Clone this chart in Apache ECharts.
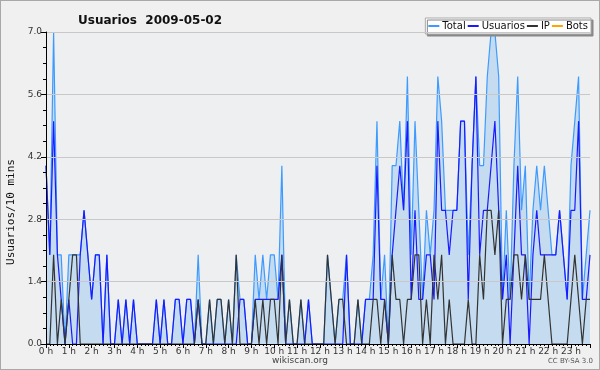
<!DOCTYPE html>
<html>
<head>
<meta charset="utf-8">
<script src="https://cdn.jsdelivr.net/npm/echarts@6/dist/echarts.min.js"></script>
<style>
  html, body { margin: 0; padding: 0; background: #f0f0f0; }
  #chart { width: 598px; height: 368px; border: 1px solid #a8a8a8; background: #f0f0f0; }
</style>
</head>
<body>
<div id="chart"></div>
<script>
// usuarios por cada 10 minutos, 144 puntos (00:00 .. 23:50)
const total = [
  4,2,7,2,2,0,2,2,2,2,3,2,
  1,2,2,0,2,0,0,1,0,1,0,1,
  0,0,0,0,0,1,0,1,0,0,1,1,
  0,1,1,0,2,0,0,1,0,1,1,0,
  1,0,2,1,1,0,0,2,1,2,1,2,
  2,1,4,0,1,0,0,1,0,1,0,0,
  0,0,2,1,0,1,1,2,0,0,1,0,
  1,1,2,5,1,2,0,4,4,5,3,6,
  2,5,3,1,3,2,3,6,5,3,3,3,
  3,5,5,2,4,6,4,4,6,7,7,6,
  1,3,1,4,6,3,4,1,3,4,3,4,
  3,2,2,3,2,1,4,5,6,1,2,3
];
const usuarios = [
  4,2,5,2,1,0,1,0,0,2,3,2,
  1,2,2,0,2,0,0,1,0,1,0,1,
  0,0,0,0,0,1,0,1,0,0,1,1,
  0,1,1,0,1,0,0,0,0,0,0,0,
  0,0,0,1,1,0,0,1,1,1,1,1,
  1,1,2,0,0,0,0,0,0,1,0,0,
  0,0,0,0,0,0,0,2,0,0,0,0,
  1,1,1,4,1,1,0,2,3,4,3,5,
  1,3,1,1,2,2,1,5,3,3,2,3,
  3,5,5,1,4,6,2,3,3,4,5,3,
  1,2,0,2,4,2,2,0,2,3,2,2,
  2,2,2,3,2,1,3,3,5,1,1,2
];
const ip = [
  0,0,2,0,1,0,1,2,2,0,0,0,
  0,0,0,0,0,0,0,0,0,0,0,0,
  0,0,0,0,0,0,0,0,0,0,0,0,
  0,0,0,0,1,0,0,1,0,1,1,0,
  1,0,2,0,0,0,0,1,0,1,0,1,
  1,0,2,0,1,0,0,1,0,0,0,0,
  0,0,2,1,0,1,1,0,0,0,1,0,
  0,0,1,1,0,1,0,2,1,1,0,1,
  1,2,2,0,1,0,2,1,2,0,1,0,
  0,0,0,1,0,0,2,1,3,3,2,3,
  0,1,1,2,2,1,2,1,1,1,1,2,
  1,0,0,0,0,0,1,2,1,0,1,1
];
const bots = new Array(144).fill(0);
const serieNames = ['Total', 'Usuarios', 'IP', 'Bots'];

// pares [minuto, valor] para el eje de tiempo
function pares (list) {
    return list.map((v, i) => [i * 10, v]);
}

let myChart = echarts.init(document.getElementById('chart'));
myChart.setOption({
    animation: false,
    backgroundColor: '#f0f0f0',
    textStyle: { fontFamily: 'DejaVu Sans' },
    title: {
        text: 'Usuarios  2009-05-02',
        left: 72,
        top: 9,
        textStyle: { fontSize: 12, fontWeight: 'bold', color: '#111', fontFamily: 'DejaVu Sans' }
    },
    legend: {
        data: serieNames,
        right: 8,
        top: 17,
        backgroundColor: '#ffffff',
        borderColor: '#aaaaaa',
        borderWidth: 1,
        shadowColor: '#888888',
        shadowOffsetX: 2,
        shadowOffsetY: 2,
        shadowBlur: 0,
        padding: [3, 3, 3, 3],
        itemGap: 2,
        itemWidth: 11,
        itemHeight: 2,
        icon: 'rect',
        textStyle: { fontSize: 10, color: '#111', padding: [0, 0, 0, -2] }
    },
    grid: {
        left: 45,
        right: 9,
        top: 31,
        bottom: 25,
        outerBoundsMode: 'none',
        containLabel: false,
        show: true,
        backgroundColor: '#eeeff1',
        borderWidth: 0
    },
    xAxis: {
        type: 'value',
        min: 0,
        max: 1430,
        interval: 60,
        z: 5,
        axisLine: { lineStyle: { color: '#000', width: 1 } },
        axisTick: { length: 4, lineStyle: { color: '#000' } },
        minorTick: { show: true, splitNumber: 6, length: 2, lineStyle: { color: '#000' } },
        splitLine: { show: false },
        axisLabel: {
            fontSize: 9,
            color: '#333',
            margin: 3,
            formatter: v => (v % 60 === 0 ? (v / 60) + ' h' : '')
        }
    },
    yAxis: {
        type: 'value',
        min: 0,
        max: 7,
        interval: 1.4,
        z: 5,
        axisLine: { show: true, lineStyle: { color: '#000', width: 1 } },
        axisTick: { show: true, length: 5, lineStyle: { color: '#000' } },
        minorTick: { show: true, splitNumber: 4, length: 3, lineStyle: { color: '#000' } },
        splitLine: { lineStyle: { color: '#c8c8c8' } },
        axisLabel: {
            fontSize: 9,
            color: '#333',
            margin: 4,
            formatter: v => v.toFixed(1)
        }
    },
    series: [
        {
            name: 'Total',
            type: 'line',
            data: pares(total),
            showSymbol: false,
            z: 2,
            itemStyle: { color: '#3d9bff' },
            lineStyle: { color: '#3d9bff', width: 1.2 },
            areaStyle: { color: '#c4dbf0', opacity: 1 }
        },
        {
            name: 'Usuarios',
            type: 'line',
            data: pares(usuarios),
            showSymbol: false,
            z: 3,
            itemStyle: { color: '#1a1aff' },
            lineStyle: { color: '#1a1aff', width: 1.2 }
        },
        {
            name: 'IP',
            type: 'line',
            data: pares(ip),
            showSymbol: false,
            z: 4,
            itemStyle: { color: '#333333' },
            lineStyle: { color: '#333333', width: 1.2 }
        },
        {
            name: 'Bots',
            type: 'line',
            data: pares(bots),
            showSymbol: false,
            z: 1,
            itemStyle: { color: '#ffa500' },
            lineStyle: { color: '#ffa500', width: 1.2 }
        }
    ],
    graphic: [
        {
            type: 'text',
            x: 10,
            y: 211,
            rotation: Math.PI / 2,
            style: {
                text: 'Usuarios/10 mins',
                fontSize: 11,
                fill: '#111',
                fontFamily: 'DejaVu Sans Mono',
                align: 'center',
                verticalAlign: 'middle'
            }
        },
        {
            type: 'text',
            left: 'center',
            top: 355,
            style: { text: 'wikiscan.org', fontSize: 9, fill: '#444', fontFamily: 'DejaVu Sans' }
        },
        {
            type: 'text',
            right: 6,
            top: 357,
            style: { text: 'CC BY-SA 3.0', fontSize: 7, fill: '#555', fontFamily: 'DejaVu Sans' }
        }
    ]
});
</script>
</body>
</html>
